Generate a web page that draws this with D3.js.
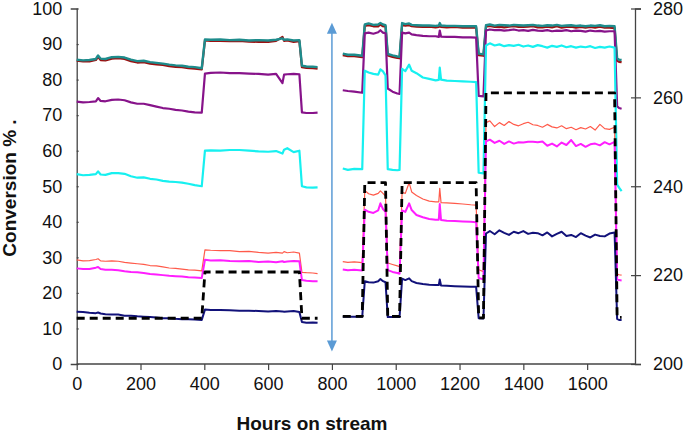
<!DOCTYPE html>
<html><head><meta charset="utf-8">
<script src="https://cdn.jsdelivr.net/npm/d3@7"></script>
<style>
html,body{margin:0;padding:0;background:#fff;}
svg{display:block;}
text{font-family:"Liberation Sans",Arial,sans-serif;fill:#111;}
</style></head>
<body><svg id="chart" width="685" height="433"></svg>
<script>
// ---- data (hours on stream; conversion %, temperature on right axis) ----
const hours = [0,20,40,60,67,75,90,110,130,150,170,190,210,230,250,270,290,310,330,350,370,392,
  402,420,450,480,510,540,570,600,625,645,650,660,680,698,706,720,740,755,
  795,
  834,850,870,895,903,915,930,945,952,960,968,975,990,1005,1012,1020,1030,1042,1050,1065,1085,1105,1125,1135,1138,1142,1160,1185,1210,1235,1252,1260,1275,
  1283,1295,1310,1325,1340,1355,1370,1385,1400,1415,1430,1445,1460,1475,1490,1505,1520,1535,1550,1565,1580,1595,1610,1625,1640,1655,1670,1686,1694,1700,1708];

const teal = [85.6,85.4,85.5,85.8,86.8,85.9,85.8,86.3,86.4,86.2,85.6,85.2,85.3,84.9,84.7,84.5,84.2,84.0,83.9,83.6,83.5,83.2,
  91.3,91.2,91.3,91.1,91.2,91.0,91.1,91.0,91.2,91.6,91.2,91.3,91.0,91.1,83.9,83.7,83.6,83.5,
  null,
  87.3,87.0,87.0,86.7,95.5,95.8,95.4,95.5,95.9,95.5,95.3,87.2,86.8,86.5,86.4,95.9,95.6,95.8,95.4,95.3,95.2,95.2,95.1,95.2,95.9,95.2,95.1,95.1,95.0,95.0,95.0,87.3,87.1,
  95.3,95.5,95.2,95.4,95.3,95.2,95.4,95.3,95.2,95.3,95.4,95.2,95.1,95.3,95.2,95.4,95.1,95.2,95.3,95.1,95.2,95.0,95.2,95.1,95.3,95.0,95.1,95.0,86.0,85.6,85.5];

const darkRed = [85.3,85.1,85.1,85.5,86.4,85.5,85.4,85.9,86.0,85.8,85.2,84.8,84.9,84.5,84.3,84.1,83.8,83.6,83.5,83.2,83.1,82.9,
  91.0,90.9,90.9,90.8,90.9,90.7,90.6,90.6,90.9,92.0,90.9,91.0,90.6,90.8,83.5,83.3,83.2,83.1,
  null,
  86.9,86.6,86.6,86.3,95.1,95.3,95.0,95.0,95.5,95.0,94.9,86.8,86.4,86.1,86.0,95.4,95.2,95.3,95.0,94.9,94.8,94.9,94.7,94.8,95.4,94.8,94.7,94.8,94.6,94.6,94.6,86.9,86.7,
  94.9,95.1,94.8,94.9,94.7,94.9,95.0,94.8,94.8,94.9,95.0,94.7,94.7,94.9,94.7,95.0,94.6,94.8,94.9,94.6,94.8,94.6,94.8,94.6,94.9,94.6,94.6,94.5,85.3,85.0,84.9];

const purple = [73.8,73.6,73.7,73.9,74.8,74.0,73.9,74.3,74.4,74.2,73.6,73.2,73.2,72.8,72.4,72.0,71.8,71.5,71.3,71.0,70.8,70.7,
  81.7,81.9,82.0,81.8,81.8,81.7,81.6,81.4,81.6,79.0,81.4,81.5,81.6,81.5,70.8,70.6,70.6,70.7,
  null,
  77.0,76.8,76.6,76.3,93.0,93.2,92.9,93.3,93.9,93.2,93.0,77.5,76.6,76.1,76.0,93.2,93.0,93.2,92.7,92.5,92.3,92.2,92.2,92.0,93.8,92.1,92.0,92.0,91.9,91.9,91.8,75.4,75.3,
  93.8,94.1,93.9,94.0,93.8,93.9,94.1,93.8,93.9,93.7,94.0,93.8,93.7,93.9,93.6,93.8,93.7,93.9,93.6,93.8,93.7,93.5,93.8,93.6,93.7,93.5,93.6,93.6,72.5,72.0,71.8];

const cyan = [53.4,53.1,53.2,53.4,54.2,53.3,53.2,53.7,53.7,53.5,52.8,52.4,52.5,52.1,51.9,51.5,51.3,51.2,51.0,50.7,50.3,50.0,
  60.0,60.1,60.0,60.2,60.2,60.0,59.8,59.7,59.9,59.2,60.3,60.7,59.6,60.0,50.0,49.7,49.6,49.7,
  null,
  55.0,54.6,54.9,54.8,82.5,82.0,81.6,81.4,82.9,82.3,81.2,54.8,54.6,54.5,54.6,83.0,82.4,84.2,82.5,81.8,80.6,80.2,79.8,79.9,83.4,80.0,79.7,79.6,79.5,79.4,79.3,53.8,53.6,
  89.6,90.2,89.6,89.9,89.4,89.7,89.5,89.8,89.3,89.6,89.2,89.7,89.4,89.0,89.5,89.2,89.6,89.1,89.4,89.0,89.3,89.1,89.4,88.9,89.2,89.0,89.3,89.0,50.5,49.6,48.6];

const salmon = [29.3,29.0,29.1,29.4,29.6,29.0,28.9,29.0,28.9,28.6,28.4,28.2,28.0,27.7,27.6,27.3,27.0,26.9,26.7,26.5,26.4,26.2,
  32.1,32.0,31.9,31.9,31.6,31.7,31.4,31.2,31.4,31.2,31.6,31.3,31.5,31.2,25.8,25.7,25.6,25.4,
  null,
  28.8,28.6,28.7,28.5,48.8,47.9,47.5,48.0,48.7,48.0,47.2,28.4,28.0,27.6,27.4,48.3,48.0,51.0,48.4,47.4,46.4,45.8,45.6,45.6,49.4,45.4,45.3,45.2,45.0,44.8,44.7,26.5,26.0,
  67.9,68.4,66.8,67.9,67.1,68.2,67.4,67.0,67.6,68.0,67.3,67.1,66.6,67.4,66.7,66.4,67.0,66.2,66.6,65.9,66.5,66.1,66.8,65.8,67.4,66.2,66.0,66.6,25.3,25.1,25.0];

const magenta = [26.9,26.7,26.7,27.1,27.3,26.7,26.5,26.5,26.4,26.1,25.9,25.8,25.6,25.3,25.2,25.0,24.8,24.7,24.6,24.4,24.3,24.2,
  29.3,29.1,29.2,29.0,28.9,29.0,28.7,28.8,28.6,28.9,28.7,28.8,29.0,28.9,23.6,23.4,23.3,23.3,
  null,
  26.6,26.4,26.5,26.3,43.4,42.8,42.5,43.2,45.2,43.6,42.8,26.4,25.9,25.6,25.4,43.2,42.8,45.2,43.3,41.9,41.3,40.8,40.6,40.6,45.0,40.5,40.3,40.2,40.1,40.0,39.9,24.2,23.8,
  62.6,63.1,62.2,62.8,61.9,62.6,62.0,62.4,62.3,62.5,62.5,62.4,62.6,61.4,62.0,61.2,62.3,61.6,63.0,61.3,61.9,61.1,61.8,62.0,61.5,62.4,61.8,62.5,23.8,23.6,23.5];

const navy = [14.7,14.6,14.4,14.3,14.5,14.2,14.0,13.9,13.9,13.6,13.6,13.4,13.3,13.2,13.1,12.9,12.9,12.7,12.6,12.6,12.5,12.4,
  15.3,15.2,15.2,15.1,15.0,15.0,14.9,14.8,14.9,14.8,14.7,14.8,14.9,14.6,11.8,11.6,11.7,11.6,
  null,
  13.3,13.3,13.3,13.3,23.3,23.0,22.9,23.3,23.9,23.3,23.0,13.2,13.2,13.2,13.2,24.0,23.6,24.1,23.3,22.8,22.5,22.3,22.2,22.2,23.8,22.1,22.0,21.9,21.8,21.7,21.7,12.9,12.8,
  36.7,37.4,36.5,37.6,36.9,36.3,37.2,36.8,37.4,36.6,36.9,36.8,36.2,37.0,35.9,36.6,37.2,36.0,36.3,35.7,36.8,36.1,35.6,36.4,36.0,35.9,36.7,37.0,12.7,12.4,12.4];

const temperature = [210.3,210.3,210.3,210.3,210.3,210.3,210.3,210.3,210.3,210.3,210.3,210.3,210.3,210.3,210.3,210.3,210.3,210.3,210.3,210.3,210.3,210.3,
  220.7,220.7,220.7,220.7,220.7,220.7,220.7,220.7,220.7,220.7,220.7,220.7,220.7,220.7,210.3,210.3,210.3,210.3,
  null,
  210.7,210.7,210.7,210.7,240.8,240.8,240.8,240.8,240.8,240.8,240.8,210.7,210.7,210.7,210.7,240.8,240.8,240.8,240.8,240.8,240.8,240.8,240.8,240.8,240.8,240.8,240.8,240.8,240.8,240.8,240.8,210.4,210.4,
  261.0,261.0,261.0,261.0,261.0,261.0,261.0,261.0,261.0,261.0,261.0,261.0,261.0,261.0,261.0,261.0,261.0,261.0,261.0,261.0,261.0,261.0,261.0,261.0,261.0,261.0,261.0,261.0,210.5,210.5,210.5];

const xTicks = [0,200,400,600,800,1000,1200,1400,1600];
const yTicks = [0,10,20,30,40,50,60,70,80,90,100];
const y2Ticks = [200,220,240,260,280];
const arrowHour = 800;
const arrowRange = [3.5, 96];

// ---- drawing ----
const svg = d3.select("#chart");
const x = d3.scaleLinear().domain([0,1750]).range([76.7,635]);
const y = d3.scaleLinear().domain([0,100]).range([364,8.5]);
const y2 = d3.scaleLinear().domain([200,280]).range([364,8.5]);

const axisColor = "#444";
const fs = "18px";
const fmt = d3.format("d");

// left axis
const gL = svg.append("g").attr("transform","translate(76.7,0)")
  .call(d3.axisLeft(y).tickValues(yTicks).tickFormat(fmt).tickSizeOuter(0).tickSize(6).tickPadding(8.5));
// bottom axis
const gB = svg.append("g").attr("transform","translate(0,364)")
  .call(d3.axisBottom(x).tickValues(xTicks).tickFormat(fmt).tickSizeOuter(0).tickSize(6).tickPadding(7));
// right axis
const gR = svg.append("g").attr("transform","translate(635,0)")
  .call(d3.axisRight(y2).tickValues(y2Ticks).tickFormat(fmt).tickSizeOuter(0).tickSize(6).tickPadding(12));
gR.selectAll(".tick line").attr("x1",-4);
gL.selectAll(".tick line").attr("x2",2);

[gL,gB,gR].forEach(g=>{
  g.selectAll("path.domain").attr("stroke",axisColor).attr("stroke-width",1.3);
  g.selectAll(".tick line").attr("stroke",axisColor).attr("stroke-width",1.2);
  g.selectAll(".tick text").attr("fill","#111").style("font-size",fs)
    .style("font-family","'Liberation Sans',Arial,sans-serif");
});
gB.select("path.domain").attr("d","M76.7,0H635");

// arrow
const arrowColor = "#5B9BD5";
const ax = x(arrowHour), aTop = y(arrowRange[1]), aBot = y(arrowRange[0]);
svg.append("line").attr("x1",ax).attr("x2",ax).attr("y1",aTop+8).attr("y2",aBot-8)
  .attr("stroke",arrowColor).attr("stroke-width",1.5);
svg.append("path").attr("d",`M${ax},${aTop}L${ax-5},${aTop+11}L${ax+5},${aTop+11}Z`).attr("fill",arrowColor);
svg.append("path").attr("d",`M${ax},${aBot}L${ax-5},${aBot-11}L${ax+5},${aBot-11}Z`).attr("fill",arrowColor);

// series
const series = [
  {vals: darkRed, color:"#9B1010", w:2.2, scale:y},
  {vals: teal, color:"#1E8C8C", w:2.4, scale:y},
  {vals: purple, color:"#87138A", w:2.2, scale:y},
  {vals: cyan, color:"#17F0F0", w:2.2, scale:y},
  {vals: salmon, color:"#FF5A4A", w:1.2, scale:y},
  {vals: magenta, color:"#FF1EFF", w:2.0, scale:y},
  {vals: navy, color:"#12127A", w:2.0, scale:y},
  {vals: temperature, color:"#000", w:2.8, scale:y2, dash:"8,5"}
];
series.forEach(s=>{
  const line = d3.line()
    .defined((d,i)=>s.vals[i]!==null)
    .x((d,i)=>x(hours[i]))
    .y((d,i)=>s.scale(s.vals[i]));
  svg.append("path").datum(hours).attr("d",line)
    .attr("fill","none").attr("stroke",s.color).attr("stroke-width",s.w)
    .attr("stroke-linejoin","round")
    .attr("stroke-dasharray",s.dash||null);
});

// titles
svg.append("text").attr("transform","translate(16,188) rotate(-90)")
  .attr("text-anchor","middle").style("font-weight","bold").style("font-size","19px")
  .text("Conversion % .");
svg.append("text").attr("x",312).attr("y",430)
  .attr("text-anchor","middle").style("font-weight","bold").style("font-size","19px")
  .text("Hours on stream");
</script></body></html>
